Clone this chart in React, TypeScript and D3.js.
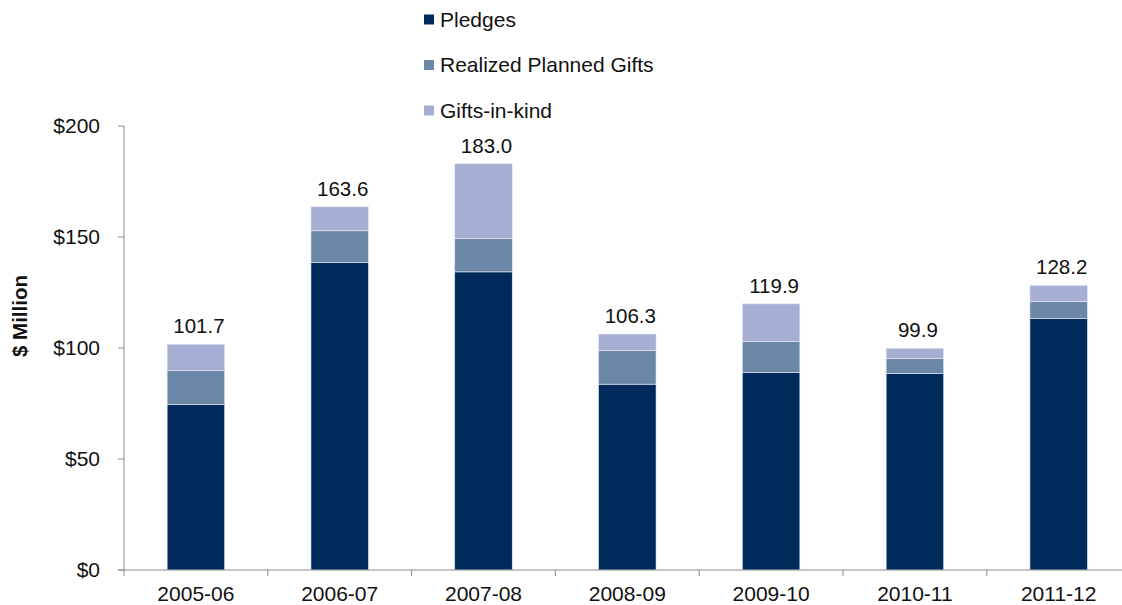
import React from "react";
import * as d3 from "d3";

const categories = ["2005-06", "2006-07", "2007-08", "2008-09", "2009-10", "2010-11", "2011-12"];
const pledges = [74.6, 138.5, 134.3, 83.7, 89.0, 88.5, 113.3];
const realizedPlannedGifts = [15.3, 14.3, 15.0, 15.2, 13.9, 6.8, 7.7];
const giftsInKind = [11.8, 10.8, 33.7, 7.4, 17.0, 4.6, 7.2];
const totals = [101.7, 163.6, 183.0, 106.3, 119.9, 99.9, 128.2];
const yTicks = [0, 50, 100, 150, 200];
const seriesNames = ["Pledges", "Realized Planned Gifts", "Gifts-in-kind"];
const colors = ["#002A5C", "#6B87A8", "#A6AED4"];

export default function App() {
  const W = 1122, H = 605;
  const x0 = 124, y0 = 570, yTop = 126;
  const band = 143.8;
  const x = d3.scaleBand<string>().domain(categories).range([x0, x0 + band * categories.length]).paddingInner(0.6).paddingOuter(0.3);
  const y = d3.scaleLinear().domain([0, 200]).range([y0, yTop]);

  const rows = categories.map((c, i) => ({ cat: c, p: pledges[i], r: realizedPlannedGifts[i], g: giftsInKind[i] }));
  const stack = d3.stack<any>().keys(["p", "r", "g"])(rows);
  const font = "'Liberation Sans', Arial, sans-serif";
  const axisColor = "#8C8C8C";

  return (
    <svg width={W} height={H} style={{ position: "absolute", left: 0, top: 0, background: "#fff" }} fontFamily={font}>
      {/* legend */}
      {seriesNames.map((n, i) => (
        <g key={n} transform={`translate(424, ${19.5 + i * 45.5})`}>
          <rect x={0} y={-5} width={10} height={10} fill={colors[i]} />
          <text x={16} y={0} dy="0.35em" fontSize={21} fill="#111">{n}</text>
        </g>
      ))}
      {/* bars */}
      {stack.map((s, si) => (
        <g key={si}>
          {s.map((d, i) => (
            <rect key={i} x={x(categories[i])} width={x.bandwidth()} y={y(d[1])} height={y(d[0]) - y(d[1])}
              fill={colors[si]} stroke="#E6E9F2" strokeWidth={0.6} />
          ))}
        </g>
      ))}
      {/* value labels */}
      {totals.map((t, i) => (
        <text key={i} x={(x(categories[i]) as number) + x.bandwidth() / 2 + 3} y={y(t) - 11} textAnchor="middle" fontSize={20.5} fill="#111">
          {t.toFixed(1)}
        </text>
      ))}
      {/* y axis */}
      <line x1={x0} x2={x0} y1={yTop} y2={y0} stroke={axisColor} />
      {yTicks.map((t) => (
        <g key={t}>
          <line x1={x0 - 6} x2={x0} y1={y(t)} y2={y(t)} stroke={axisColor} />
          <text x={100} y={y(t)} dy="0.35em" textAnchor="end" fontSize={21} fill="#111">${t}</text>
        </g>
      ))}
      {/* x axis */}
      <line x1={x0 - 6} x2={W} y1={y0} y2={y0} stroke={axisColor} />
      {categories.map((c, i) => (
        <g key={c}>
          <line x1={x0 + i * band} x2={x0 + i * band} y1={y0} y2={y0 + 6} stroke={axisColor} />
          <text x={(x(c) as number) + x.bandwidth() / 2} y={y0 + 24} dy="0.35em" textAnchor="middle" fontSize={21} fill="#111">{c}</text>
        </g>
      ))}
      {/* y title */}
      <text transform={`translate(20, 316) rotate(-90)`} textAnchor="middle" dy="0.35em" fontSize={20.5} fontWeight="bold" fill="#111">$ Million</text>
    </svg>
  );
}
